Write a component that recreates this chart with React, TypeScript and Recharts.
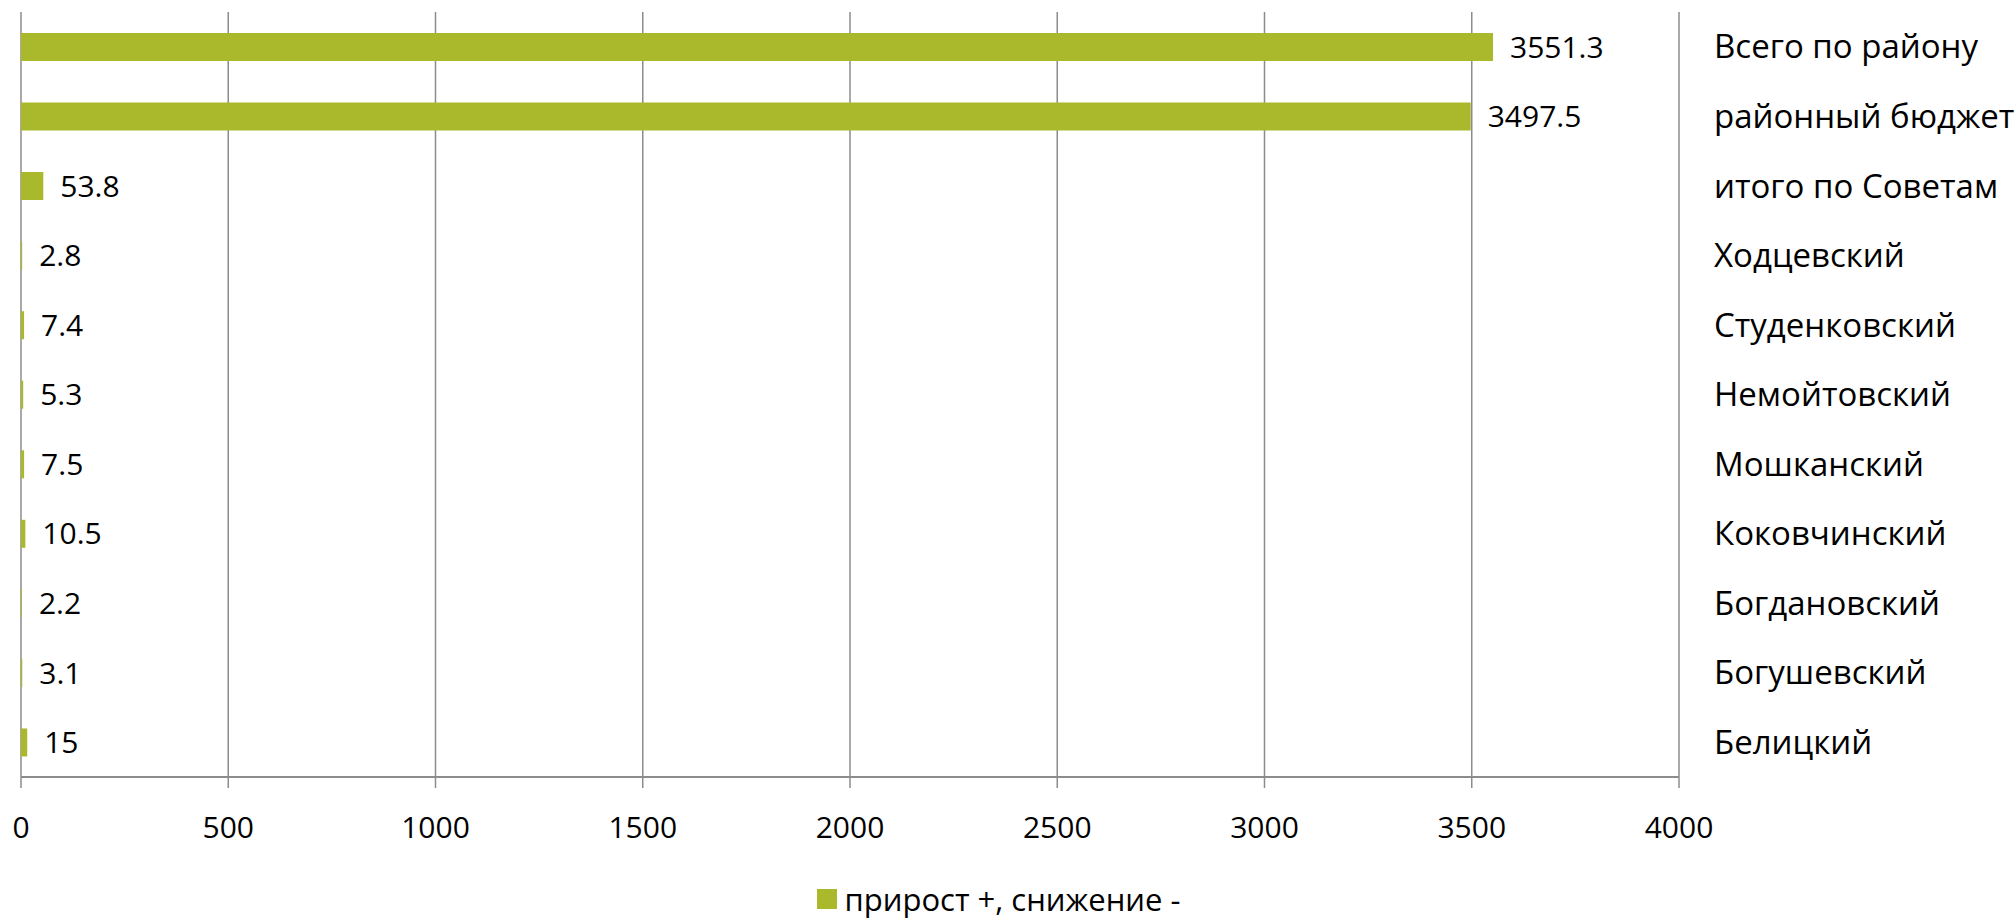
import React from 'react'
import { BarChart, Bar, XAxis, YAxis, CartesianGrid, Legend, LabelList } from 'recharts'

const categories = [
  'Всего по району',
  'районный бюджет',
  'итого по Советам',
  'Ходцевский',
  'Студенковский',
  'Немойтовский',
  'Мошканский',
  'Коковчинский',
  'Богдановский',
  'Богушевский',
  'Белицкий',
]

const values = [3551.3, 3497.5, 53.8, 2.8, 7.4, 5.3, 7.5, 10.5, 2.2, 3.1, 15]

const xTicks = [0, 500, 1000, 1500, 2000, 2500, 3000, 3500, 4000]

const seriesName = 'прирост +, снижение -'

const data = categories.map((name, i) => ({ name, value: values[i] }))

const font = '"Open Sans", "Noto Sans", sans-serif'
const green = '#A9B92B'
const grid = '#8c8c8c'

function LegendContent() {
  return (
    <div
      style={{
        height: 50,
        paddingTop: 10,
        paddingRight: 40,
        boxSizing: 'border-box',
        display: 'flex',
        justifyContent: 'center',
        alignItems: 'center',
        fontFamily: font,
        fontSize: 31,
        color: '#000',
      }}
    >
      <span style={{ width: 20, height: 20, background: green, display: 'inline-block', marginRight: 8 }} />
      <span>{seriesName}</span>
    </div>
  )
}

export default function App() {
  return (
    <div style={{ position: 'absolute', left: 0, top: 0, background: '#fff' }}>
      <BarChart
        width={2016}
        height={919}
        data={data}
        layout="vertical"
        margin={{ top: 12, right: 0, bottom: 0, left: 21 }}
      >
        <CartesianGrid vertical horizontal={false} stroke={grid} strokeWidth={1.5} />
        <XAxis
          type="number"
          domain={[0, 4000]}
          ticks={xTicks}
          interval={0}
          height={92}
          tickSize={11}
          tickMargin={29}
          axisLine={{ stroke: grid, strokeWidth: 2 }}
          tickLine={{ stroke: grid, strokeWidth: 1.5 }}
          tick={{ fill: '#000', fontSize: 30, fontFamily: font }}
        />
        <YAxis
          type="category"
          dataKey="name"
          orientation="right"
          width={337}
          axisLine={false}
          tickLine={false}
          tickSize={0}
          tickMargin={35}
          interval={0}
          tick={{ fill: '#000', fontSize: 33, fontFamily: font, textAnchor: 'start' }}
        />
        <Legend verticalAlign="bottom" height={50} content={<LegendContent />} />
        <Bar dataKey="value" name={seriesName} fill={green} barSize={28} isAnimationActive={false}>
          <LabelList
            dataKey="value"
            position="right"
            offset={17}
            fill="#000"
            fontSize={30}
            fontFamily={font}
          />
        </Bar>
      </BarChart>
    </div>
  )
}
